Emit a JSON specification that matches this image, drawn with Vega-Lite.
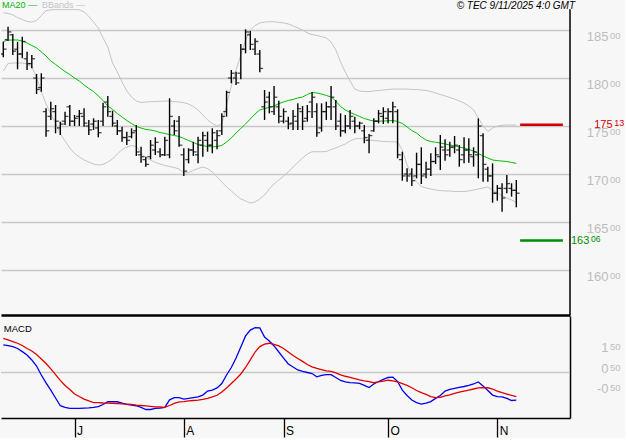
{
  "$schema": "https://vega.github.io/schema/vega-lite/v6.json",
  "background": "#f7f7f7",
  "padding": 0,
  "autosize": {"type": "pad"},
  "spacing": 1,
  "bounds": "flush",
  "config": {"view": {"stroke": null}, "axis": {"labelFont": "Liberation Sans"}, "text": {"font": "Liberation Sans"}},
  "datasets": {
    "bars": [
{"i":0,"o":182.5,"h":183.78,"l":182.16,"c":183.0,"ma":183.8,"bu":186.79,"bl":180.73,"macd":1.32,"sig":1.63},
{"i":1,"o":184.0,"h":185.34,"l":183.89,"c":184.8,"ma":183.94,"bu":186.72,"bl":181.51,"macd":1.29,"sig":1.56},
{"i":2,"o":184.5,"h":184.58,"l":182.4,"c":182.8,"ma":183.96,"bu":186.58,"bl":181.56,"macd":1.24,"sig":1.48},
{"i":3,"o":183.0,"h":183.78,"l":180.91,"c":182.5,"ma":183.96,"bu":186.3,"bl":181.56,"macd":1.15,"sig":1.4},
{"i":4,"o":182.5,"h":184.3,"l":182.05,"c":183.8,"ma":183.85,"bu":186.09,"bl":181.56,"macd":1.0,"sig":1.29},
{"i":5,"o":182.0,"h":182.74,"l":180.83,"c":181.5,"ma":183.65,"bu":185.89,"bl":181.46,"macd":0.84,"sig":1.15},
{"i":6,"o":181.5,"h":182.4,"l":181.01,"c":182.0,"ma":183.39,"bu":185.83,"bl":181.15,"macd":0.6,"sig":1.03},
{"i":7,"o":180.0,"h":180.42,"l":178.33,"c":178.8,"ma":183.13,"bu":185.99,"bl":180.1,"macd":0.31,"sig":0.86},
{"i":8,"o":179.0,"h":180.49,"l":178.57,"c":180.0,"ma":182.71,"bu":186.51,"bl":178.54,"macd":-0.12,"sig":0.65},
{"i":9,"o":176.5,"h":176.84,"l":173.89,"c":174.5,"ma":182.29,"bu":187.0,"bl":177.29,"macd":-0.5,"sig":0.43},
{"i":10,"o":176.0,"h":177.53,"l":175.63,"c":176.8,"ma":181.77,"bu":187.1,"bl":176.25,"macd":-0.84,"sig":0.17},
{"i":11,"o":176.5,"h":177.19,"l":174.24,"c":175.5,"ma":181.41,"bu":187.12,"bl":175.31,"macd":-1.22,"sig":-0.1},
{"i":12,"o":174.8,"h":175.45,"l":174.06,"c":175.2,"ma":181.04,"bu":187.12,"bl":174.17,"macd":-1.59,"sig":-0.38},
{"i":13,"o":175.5,"h":176.49,"l":175.1,"c":176.0,"ma":180.68,"bu":187.12,"bl":173.44,"macd":-1.67,"sig":-0.62},
{"i":14,"o":177.0,"h":177.19,"l":175.0,"c":175.5,"ma":180.36,"bu":187.12,"bl":172.71,"macd":-1.72,"sig":-0.81},
{"i":15,"o":175.5,"h":176.15,"l":175.0,"c":175.8,"ma":180.0,"bu":187.12,"bl":172.14,"macd":-1.72,"sig":-1.03},
{"i":16,"o":176.0,"h":176.67,"l":175.0,"c":176.3,"ma":179.69,"bu":187.1,"bl":171.77,"macd":-1.72,"sig":-1.15},
{"i":17,"o":176.0,"h":176.84,"l":174.93,"c":175.3,"ma":179.27,"bu":186.88,"bl":171.46,"macd":-1.7,"sig":-1.27},
{"i":18,"o":175.0,"h":175.63,"l":174.06,"c":174.6,"ma":178.91,"bu":186.41,"bl":171.25,"macd":-1.69,"sig":-1.36},
{"i":19,"o":175.2,"h":175.8,"l":174.58,"c":175.5,"ma":178.59,"bu":185.83,"bl":171.04,"macd":-1.67,"sig":-1.44},
{"i":20,"o":174.8,"h":175.63,"l":173.82,"c":174.3,"ma":178.13,"bu":185.21,"bl":170.94,"macd":-1.63,"sig":-1.44},
{"i":21,"o":175.5,"h":177.43,"l":175.0,"c":177.0,"ma":177.66,"bu":184.17,"bl":170.99,"macd":-1.53,"sig":-1.46},
{"i":22,"o":177.5,"h":178.13,"l":175.97,"c":176.5,"ma":177.08,"bu":183.23,"bl":171.25,"macd":-1.4,"sig":-1.47},
{"i":23,"o":176.0,"h":176.59,"l":174.93,"c":175.3,"ma":176.72,"bu":181.56,"bl":171.56,"macd":-1.4,"sig":-1.48},
{"i":24,"o":175.0,"h":175.63,"l":174.06,"c":174.5,"ma":176.3,"bu":180.63,"bl":172.08,"macd":-1.4,"sig":-1.49},
{"i":25,"o":174.5,"h":174.93,"l":173.36,"c":173.8,"ma":175.94,"bu":179.58,"bl":172.55,"macd":-1.46,"sig":-1.5},
{"i":26,"o":173.8,"h":174.41,"l":173.02,"c":173.5,"ma":175.57,"bu":178.65,"bl":172.81,"macd":-1.53,"sig":-1.51},
{"i":27,"o":173.9,"h":174.76,"l":173.72,"c":174.3,"ma":175.26,"bu":178.02,"bl":172.97,"macd":-1.56,"sig":-1.53},
{"i":28,"o":174.5,"h":175.1,"l":171.88,"c":172.3,"ma":174.95,"bu":177.6,"bl":172.86,"macd":-1.59,"sig":-1.56},
{"i":29,"o":172.0,"h":172.84,"l":171.18,"c":171.8,"ma":174.79,"bu":177.45,"bl":172.19,"macd":-1.67,"sig":-1.58},
{"i":30,"o":171.5,"h":171.8,"l":170.76,"c":171.0,"ma":174.64,"bu":177.5,"bl":171.72,"macd":-1.77,"sig":-1.6},
{"i":31,"o":171.8,"h":173.54,"l":171.53,"c":173.0,"ma":174.58,"bu":177.53,"bl":171.46,"macd":-1.77,"sig":-1.62},
{"i":32,"o":172.5,"h":173.82,"l":171.98,"c":173.3,"ma":174.48,"bu":177.55,"bl":171.2,"macd":-1.72,"sig":-1.64},
{"i":33,"o":172.3,"h":172.68,"l":171.74,"c":172.0,"ma":174.32,"bu":177.57,"bl":171.04,"macd":-1.7,"sig":-1.65},
{"i":34,"o":172.0,"h":173.89,"l":171.88,"c":173.5,"ma":174.22,"bu":177.6,"bl":170.89,"macd":-1.67,"sig":-1.67},
{"i":35,"o":172.0,"h":177.89,"l":171.64,"c":176.0,"ma":174.11,"bu":177.6,"bl":170.78,"macd":-1.31,"sig":-1.58},
{"i":36,"o":175.0,"h":175.63,"l":174.06,"c":174.5,"ma":174.01,"bu":177.55,"bl":170.68,"macd":-1.2,"sig":-1.48},
{"i":37,"o":175.5,"h":176.04,"l":172.84,"c":173.0,"ma":173.91,"bu":177.5,"bl":170.52,"macd":-1.2,"sig":-1.41},
{"i":38,"o":172.0,"h":172.68,"l":169.79,"c":170.3,"ma":173.7,"bu":177.43,"bl":170.1,"macd":-1.27,"sig":-1.39},
{"i":39,"o":171.5,"h":172.68,"l":171.11,"c":172.5,"ma":173.49,"bu":177.29,"bl":170.16,"macd":-1.24,"sig":-1.36},
{"i":40,"o":172.5,"h":173.36,"l":171.88,"c":172.3,"ma":173.28,"bu":177.03,"bl":170.37,"macd":-1.2,"sig":-1.34},
{"i":41,"o":172.0,"h":173.89,"l":171.11,"c":173.5,"ma":173.07,"bu":176.67,"bl":170.57,"macd":-1.17,"sig":-1.32},
{"i":42,"o":173.0,"h":174.41,"l":171.8,"c":174.0,"ma":172.97,"bu":176.15,"bl":170.73,"macd":-1.08,"sig":-1.29},
{"i":43,"o":173.5,"h":174.41,"l":172.32,"c":173.0,"ma":172.86,"bu":175.63,"bl":170.57,"macd":-0.89,"sig":-1.24},
{"i":44,"o":173.0,"h":174.76,"l":172.16,"c":174.3,"ma":172.83,"bu":175.26,"bl":170.21,"macd":-0.84,"sig":-1.17},
{"i":45,"o":173.5,"h":174.58,"l":172.57,"c":174.0,"ma":172.86,"bu":175.0,"bl":169.69,"macd":-0.74,"sig":-1.09},
{"i":46,"o":174.5,"h":176.32,"l":174.06,"c":176.0,"ma":172.97,"bu":175.21,"bl":169.17,"macd":-0.53,"sig":-0.93},
{"i":47,"o":176.5,"h":178.68,"l":175.97,"c":178.5,"ma":173.33,"bu":177.19,"bl":168.65,"macd":-0.12,"sig":-0.74},
{"i":48,"o":180.0,"h":180.83,"l":179.45,"c":180.5,"ma":173.75,"bu":179.17,"bl":168.23,"macd":0.24,"sig":-0.53},
{"i":49,"o":180.0,"h":180.66,"l":179.27,"c":179.5,"ma":174.27,"bu":180.83,"bl":167.81,"macd":0.69,"sig":-0.31},
{"i":50,"o":180.5,"h":183.54,"l":179.86,"c":183.0,"ma":174.74,"bu":182.4,"bl":167.4,"macd":1.22,"sig":-0.07},
{"i":51,"o":183.0,"h":185.07,"l":182.57,"c":184.8,"ma":175.21,"bu":183.96,"bl":167.19,"macd":1.75,"sig":0.24},
{"i":52,"o":184.5,"h":184.9,"l":182.92,"c":183.5,"ma":175.73,"bu":185.0,"bl":166.98,"macd":2.03,"sig":0.6},
{"i":53,"o":183.0,"h":184.14,"l":182.4,"c":183.8,"ma":176.25,"bu":185.47,"bl":167.08,"macd":2.15,"sig":0.98},
{"i":54,"o":182.5,"h":182.92,"l":180.59,"c":181.0,"ma":176.67,"bu":185.73,"bl":167.4,"macd":2.13,"sig":1.24},
{"i":55,"o":177.0,"h":178.75,"l":175.63,"c":177.5,"ma":176.82,"bu":185.83,"bl":167.81,"macd":1.7,"sig":1.36},
{"i":56,"o":178.0,"h":178.57,"l":176.32,"c":177.0,"ma":176.93,"bu":185.86,"bl":168.44,"macd":1.51,"sig":1.4},
{"i":57,"o":176.5,"h":179.17,"l":176.15,"c":178.0,"ma":177.08,"bu":185.86,"bl":168.96,"macd":1.27,"sig":1.34},
{"i":58,"o":177.0,"h":177.64,"l":175.28,"c":176.0,"ma":177.34,"bu":185.8,"bl":169.38,"macd":0.98,"sig":1.27},
{"i":59,"o":175.5,"h":176.84,"l":175.28,"c":176.5,"ma":177.5,"bu":185.73,"bl":169.79,"macd":0.69,"sig":1.15},
{"i":60,"o":175.5,"h":175.97,"l":174.66,"c":175.2,"ma":177.66,"bu":185.63,"bl":170.21,"macd":0.41,"sig":0.98},
{"i":61,"o":175.3,"h":176.67,"l":174.58,"c":176.0,"ma":177.76,"bu":185.42,"bl":170.73,"macd":0.26,"sig":0.81},
{"i":62,"o":175.5,"h":177.36,"l":174.58,"c":176.8,"ma":177.92,"bu":185.21,"bl":171.2,"macd":0.12,"sig":0.67},
{"i":63,"o":176.5,"h":177.08,"l":174.58,"c":175.5,"ma":178.02,"bu":185.0,"bl":171.67,"macd":0.05,"sig":0.53},
{"i":64,"o":175.8,"h":177.19,"l":175.45,"c":176.5,"ma":178.28,"bu":184.69,"bl":172.08,"macd":0.0,"sig":0.38},
{"i":65,"o":177.5,"h":178.54,"l":175.83,"c":178.0,"ma":178.49,"bu":184.53,"bl":172.32,"macd":-0.05,"sig":0.27},
{"i":66,"o":176.5,"h":177.36,"l":173.89,"c":174.3,"ma":178.44,"bu":184.43,"bl":172.32,"macd":-0.21,"sig":0.2},
{"i":67,"o":174.8,"h":177.36,"l":174.41,"c":176.5,"ma":178.33,"bu":184.32,"bl":172.32,"macd":-0.14,"sig":0.14},
{"i":68,"o":176.5,"h":177.53,"l":175.63,"c":177.0,"ma":178.18,"bu":184.17,"bl":172.34,"macd":-0.1,"sig":0.08},
{"i":69,"o":177.0,"h":179.17,"l":175.63,"c":178.0,"ma":178.02,"bu":183.75,"bl":172.55,"macd":-0.1,"sig":0.05},
{"i":70,"o":177.0,"h":177.71,"l":174.58,"c":175.0,"ma":177.6,"bu":182.92,"bl":172.71,"macd":-0.24,"sig":-0.02},
{"i":71,"o":175.5,"h":176.32,"l":173.89,"c":174.5,"ma":177.03,"bu":181.67,"bl":172.92,"macd":-0.38,"sig":-0.11},
{"i":72,"o":174.5,"h":176.15,"l":174.24,"c":175.0,"ma":176.67,"bu":180.63,"bl":173.13,"macd":-0.45,"sig":-0.18},
{"i":73,"o":175.0,"h":176.67,"l":174.66,"c":176.0,"ma":176.41,"bu":179.69,"bl":173.44,"macd":-0.48,"sig":-0.23},
{"i":74,"o":175.5,"h":175.97,"l":174.24,"c":175.0,"ma":176.2,"bu":178.85,"bl":173.65,"macd":-0.5,"sig":-0.29},
{"i":75,"o":175.0,"h":175.45,"l":174.66,"c":175.3,"ma":175.99,"bu":178.65,"bl":173.7,"macd":-0.52,"sig":-0.35},
{"i":76,"o":174.5,"h":175.1,"l":173.2,"c":173.8,"ma":175.78,"bu":178.59,"bl":173.65,"macd":-0.62,"sig":-0.4},
{"i":77,"o":173.5,"h":174.17,"l":172.16,"c":174.0,"ma":175.63,"bu":178.59,"bl":173.54,"macd":-0.72,"sig":-0.44},
{"i":78,"o":174.5,"h":175.8,"l":174.41,"c":175.5,"ma":175.52,"bu":178.65,"bl":173.49,"macd":-0.55,"sig":-0.49},
{"i":79,"o":175.5,"h":176.67,"l":175.28,"c":176.3,"ma":175.5,"bu":178.7,"bl":173.44,"macd":-0.43,"sig":-0.45},
{"i":80,"o":176.0,"h":176.95,"l":175.21,"c":176.5,"ma":175.52,"bu":178.75,"bl":173.39,"macd":-0.33,"sig":-0.41},
{"i":81,"o":175.8,"h":176.84,"l":175.28,"c":176.5,"ma":175.54,"bu":178.8,"bl":173.36,"macd":-0.24,"sig":-0.37},
{"i":82,"o":176.5,"h":177.53,"l":175.28,"c":177.0,"ma":175.57,"bu":178.85,"bl":173.36,"macd":-0.22,"sig":-0.4},
{"i":83,"o":176.5,"h":176.74,"l":171.64,"c":172.0,"ma":175.47,"bu":178.85,"bl":173.33,"macd":-0.43,"sig":-0.45},
{"i":84,"o":171.5,"h":172.32,"l":169.3,"c":169.8,"ma":175.26,"bu":178.85,"bl":172.5,"macd":-0.84,"sig":-0.53},
{"i":85,"o":170.0,"h":170.59,"l":169.2,"c":169.8,"ma":174.9,"bu":178.85,"bl":170.94,"macd":-1.1,"sig":-0.62},
{"i":86,"o":170.0,"h":170.59,"l":168.75,"c":169.3,"ma":174.53,"bu":178.8,"bl":169.9,"macd":-1.32,"sig":-0.73},
{"i":87,"o":169.8,"h":172.22,"l":169.55,"c":171.0,"ma":174.27,"bu":178.8,"bl":169.17,"macd":-1.44,"sig":-0.86},
{"i":88,"o":171.0,"h":172.78,"l":168.96,"c":169.8,"ma":173.85,"bu":178.75,"bl":168.7,"macd":-1.51,"sig":-0.96},
{"i":89,"o":170.0,"h":171.28,"l":169.55,"c":170.5,"ma":173.54,"bu":178.7,"bl":168.54,"macd":-1.46,"sig":-1.05},
{"i":90,"o":170.5,"h":172.16,"l":169.79,"c":171.3,"ma":173.39,"bu":178.59,"bl":168.44,"macd":-1.39,"sig":-1.15},
{"i":91,"o":171.3,"h":172.78,"l":171.04,"c":172.0,"ma":173.31,"bu":178.44,"bl":168.33,"macd":-1.24,"sig":-1.2},
{"i":92,"o":171.8,"h":174.06,"l":170.42,"c":172.8,"ma":173.23,"bu":178.28,"bl":168.28,"macd":-1.1,"sig":-1.19},
{"i":93,"o":172.5,"h":173.61,"l":171.39,"c":172.0,"ma":173.13,"bu":178.13,"bl":168.23,"macd":-0.89,"sig":-1.12},
{"i":94,"o":172.5,"h":173.36,"l":171.8,"c":172.8,"ma":173.02,"bu":177.97,"bl":168.23,"macd":-0.81,"sig":-1.07},
{"i":95,"o":172.8,"h":173.96,"l":172.16,"c":173.0,"ma":172.92,"bu":177.81,"bl":168.18,"macd":-0.76,"sig":-1.0},
{"i":96,"o":172.5,"h":173.02,"l":170.76,"c":171.5,"ma":172.81,"bu":177.6,"bl":168.18,"macd":-0.71,"sig":-0.94},
{"i":97,"o":172.0,"h":173.82,"l":171.11,"c":172.5,"ma":172.71,"bu":177.4,"bl":168.18,"macd":-0.67,"sig":-0.89},
{"i":98,"o":172.5,"h":173.72,"l":171.18,"c":172.0,"ma":172.55,"bu":177.08,"bl":168.23,"macd":-0.62,"sig":-0.84},
{"i":99,"o":171.8,"h":172.78,"l":170.76,"c":172.3,"ma":172.4,"bu":176.67,"bl":168.33,"macd":-0.55,"sig":-0.79},
{"i":100,"o":172.0,"h":175.8,"l":169.55,"c":175.0,"ma":172.14,"bu":175.83,"bl":168.44,"macd":-0.45,"sig":-0.74},
{"i":101,"o":174.0,"h":174.24,"l":169.2,"c":171.0,"ma":171.88,"bu":175.0,"bl":168.54,"macd":-0.65,"sig":-0.73},
{"i":102,"o":170.5,"h":170.76,"l":169.2,"c":169.8,"ma":171.67,"bu":174.43,"bl":168.65,"macd":-0.86,"sig":-0.73},
{"i":103,"o":169.8,"h":171.11,"l":167.01,"c":168.0,"ma":171.46,"bu":174.79,"bl":168.33,"macd":-1.08,"sig":-0.79},
{"i":104,"o":168.0,"h":168.85,"l":167.22,"c":168.5,"ma":171.39,"bu":175.0,"bl":168.02,"macd":-1.15,"sig":-0.89},
{"i":105,"o":168.5,"h":169.03,"l":166.07,"c":167.5,"ma":171.35,"bu":175.07,"bl":167.76,"macd":-1.17,"sig":-0.96},
{"i":106,"o":168.5,"h":169.9,"l":167.99,"c":169.0,"ma":171.3,"bu":175.1,"bl":167.5,"macd":-1.24,"sig":-1.03},
{"i":107,"o":168.5,"h":169.03,"l":167.64,"c":168.3,"ma":171.2,"bu":175.1,"bl":167.29,"macd":-1.34,"sig":-1.1},
{"i":108,"o":168.3,"h":169.38,"l":166.53,"c":168.0,"ma":171.11,"bu":175.1,"bl":167.08,"macd":-1.32,"sig":-1.15}
    ]
  },
  "vconcat": [
    {
      "width": 569,
      "height": 315,
      "layer": [
        {
          "data": {"name": "bars"},
          "mark": {"type": "line", "color": "#c4c4c4", "strokeWidth": 1},
          "encoding": {
            "x": {"field": "i", "type": "quantitative", "scale": {"domain": [-0.484, 119.3], "nice": false, "zero": false}},
            "y": {"field": "bu", "type": "quantitative", "axis": null}
          }
        },
        {
          "data": {"name": "bars"},
          "mark": {"type": "line", "color": "#c4c4c4", "strokeWidth": 1},
          "encoding": {
            "x": {"field": "i", "type": "quantitative"},
            "y": {"field": "bl", "type": "quantitative", "axis": null}
          }
        },
        {
          "data": {"name": "bars"},
          "mark": {"type": "line", "color": "#00c000", "strokeWidth": 1},
          "encoding": {
            "x": {"field": "i", "type": "quantitative"},
            "y": {"field": "ma", "type": "quantitative", "axis": null}
          }
        },
        {
          "data": {"name": "bars"},
          "mark": {"type": "rule", "color": "#000000", "strokeWidth": 1.4},
          "encoding": {
            "x": {"field": "i", "type": "quantitative", "axis": {"orient": "bottom", "labels": false, "ticks": false, "grid": false, "domainColor": "#000000", "domainWidth": 2.5, "title": null}},
            "y": {"field": "h", "type": "quantitative", "scale": {"domain": [155.3125, 188.125], "nice": false, "zero": false},
              "axis": {"orient": "right", "values": [160, 165, 170, 175, 180, 185], "grid": true, "gridColor": "#c8c8c8", "gridWidth": 1.3, "domain": false, "ticks": false, "labelExpr": "format(datum.value, 'd')", "labelColor": "#bdbdbd", "labelFontSize": 13, "labelAlign": "right", "labelBaseline": "top", "labelPadding": 38, "labelOverlap": false, "labelFlush": false, "title": null}},
            "y2": {"field": "l"}
          }
        },
        {
          "data": {"name": "bars"},
          "mark": {"type": "tick", "orient": "horizontal", "size": 3, "thickness": 1.3, "xOffset": -1.8, "color": "#000000", "clip": true},
          "encoding": {
            "x": {"field": "i", "type": "quantitative"},
            "y": {"field": "o", "type": "quantitative",
              "axis": {"orient": "right", "values": [160, 165, 170, 175, 180, 185], "grid": false, "domain": false, "ticks": false, "labelExpr": "'00'", "labelColor": "#bdbdbd", "labelFontSize": 9.5, "labelAlign": "right", "labelBaseline": "top", "labelPadding": 50, "labelOverlap": false, "labelFlush": false, "title": null}}
          }
        },
        {
          "data": {"name": "bars"},
          "mark": {"type": "tick", "orient": "horizontal", "size": 3, "thickness": 1.3, "xOffset": 1.8, "color": "#000000"},
          "encoding": {
            "x": {"field": "i", "type": "quantitative"},
            "y": {"field": "c", "type": "quantitative", "axis": null}
          }
        },
        {
          "data": {"values": [
            {"level": 175.13, "kind": "resistance", "start": 108.8, "end": 117.8},
            {"level": 163.06, "kind": "support", "start": 108.8, "end": 117.8}
          ]},
          "mark": {"type": "rule", "strokeWidth": 2.5},
          "encoding": {
            "x": {"field": "start", "type": "quantitative"},
            "x2": {"field": "end"},
            "y": {"field": "level", "type": "quantitative", "axis": null},
            "color": {"field": "kind", "type": "nominal", "scale": {"domain": ["resistance", "support"], "range": ["#d00000", "#008c00"]}, "legend": null}
          }
        },
        {
          "data": {"values": [{"level": 175.13, "big": "175"}]},
          "mark": {"type": "text", "align": "left", "baseline": "middle", "fontSize": 11, "color": "#d00000"},
          "encoding": {"x": {"datum": 124.4}, "y": {"field": "level", "type": "quantitative", "axis": null}, "text": {"field": "big"}}
        },
        {
          "data": {"values": [{"level": 175.13, "small": "13"}]},
          "mark": {"type": "text", "align": "left", "baseline": "middle", "fontSize": 9, "dy": -1.5, "color": "#d00000"},
          "encoding": {"x": {"datum": 128.6}, "y": {"field": "level", "type": "quantitative", "axis": null}, "text": {"field": "small"}}
        },
        {
          "data": {"values": [{"level": 163.06, "big": "163"}]},
          "mark": {"type": "text", "align": "left", "baseline": "middle", "fontSize": 11, "color": "#008c00"},
          "encoding": {"x": {"datum": 119.5}, "y": {"field": "level", "type": "quantitative", "axis": null}, "text": {"field": "big"}}
        },
        {
          "data": {"values": [{"level": 163.06, "small": "06"}]},
          "mark": {"type": "text", "align": "left", "baseline": "middle", "fontSize": 8.5, "dy": -1.5, "color": "#008c00"},
          "encoding": {"x": {"datum": 123.7}, "y": {"field": "level", "type": "quantitative", "axis": null}, "text": {"field": "small"}}
        },
        {
          "data": {"values": [{"edge": 119.3, "top": 187.15, "bottom": 155.3125}]},
          "mark": {"type": "rule", "color": "#000000", "strokeWidth": 1.5},
          "encoding": {"x": {"field": "edge", "type": "quantitative"}, "y": {"field": "top", "type": "quantitative", "axis": null}, "y2": {"field": "bottom"}}
        },
        {
          "data": {"values": [{"label": "MA20 \u2014"}]},
          "mark": {"type": "text", "align": "left", "baseline": "top", "fontSize": 9, "color": "#00b400"},
          "encoding": {"x": {"datum": -0.27}, "y": {"datum": 188.05, "axis": null}, "text": {"field": "label"}}
        },
        {
          "data": {"values": [{"label": "BBands \u2014"}]},
          "mark": {"type": "text", "align": "left", "baseline": "top", "fontSize": 9, "color": "#c4c4c4"},
          "encoding": {"x": {"datum": 8.15}, "y": {"datum": 188.05, "axis": null}, "text": {"field": "label"}}
        },
        {
          "data": {"values": [{"label": "\u00a9 TEC 9/11/2025 4:0 GMT"}]},
          "mark": {"type": "text", "align": "right", "baseline": "top", "fontSize": 10, "fontStyle": "italic", "color": "#000000"},
          "encoding": {"x": {"datum": 120.36}, "y": {"datum": 188.05, "axis": null}, "text": {"field": "label"}}
        }
      ],
      "resolve": {"axis": {"y": "independent"}}
    },
    {
      "width": 569,
      "height": 102,
      "layer": [
        {
          "data": {"values": [{"zero": 0}]},
          "mark": {"type": "rule", "color": "#c8c8c8", "strokeWidth": 1.3},
          "encoding": {"y": {"field": "zero", "type": "quantitative", "scale": {"domain": [-2.177, 2.703], "nice": false, "zero": false}, "axis": null}}
        },
        {
          "data": {"name": "bars"},
          "mark": {"type": "line", "color": "#0000ee", "strokeWidth": 1.3},
          "encoding": {
            "x": {"field": "i", "type": "quantitative", "scale": {"domain": [-0.484, 119.3], "nice": false, "zero": false},
              "axis": {"orient": "bottom", "values": [15, 38, 59, 81, 104], "labelExpr": "datum.value == 15 ? 'J' : datum.value == 38 ? 'A' : datum.value == 59 ? 'S' : datum.value == 81 ? 'O' : 'N'", "grid": false, "domainColor": "#000000", "domainWidth": 1.5, "ticks": true, "tickColor": "#000000", "tickWidth": 1.3, "tickSize": 19, "labelAlign": "left", "labelBaseline": "top", "labelPadding": -12, "labelOffset": 2, "labelFontSize": 12, "labelColor": "#000000", "labelFlush": false, "labelOverlap": false, "title": null}},
            "y": {"field": "macd", "type": "quantitative",
              "axis": {"orient": "right", "values": [-0.5, 0.5, 1.5], "grid": false, "domain": true, "domainColor": "#000000", "domainWidth": 1.5, "ticks": false, "labelExpr": "datum.value == 1.5 ? '1' : datum.value == 0.5 ? '0' : '-0'", "labelColor": "#bdbdbd", "labelFontSize": 13, "labelAlign": "right", "labelBaseline": "top", "labelPadding": 38, "labelOverlap": false, "labelFlush": false, "title": null}}
          }
        },
        {
          "data": {"name": "bars"},
          "mark": {"type": "line", "color": "#e00000", "strokeWidth": 1.3},
          "encoding": {
            "x": {"field": "i", "type": "quantitative"},
            "y": {"field": "sig", "type": "quantitative",
              "axis": {"orient": "right", "values": [-0.5, 0.5, 1.5], "grid": false, "domain": false, "ticks": false, "labelExpr": "'50'", "labelColor": "#bdbdbd", "labelFontSize": 9.5, "labelAlign": "right", "labelBaseline": "top", "labelPadding": 50, "labelOverlap": false, "labelFlush": false, "title": null}}
          }
        },
        {
          "data": {"values": [{"label": "MACD"}]},
          "mark": {"type": "text", "align": "left", "baseline": "top", "fontSize": 9.5, "color": "#000000"},
          "encoding": {"x": {"datum": 0.1}, "y": {"datum": 2.3, "axis": null}, "text": {"field": "label"}}
        }
      ],
      "resolve": {"axis": {"y": "independent"}}
    }
  ]
}
